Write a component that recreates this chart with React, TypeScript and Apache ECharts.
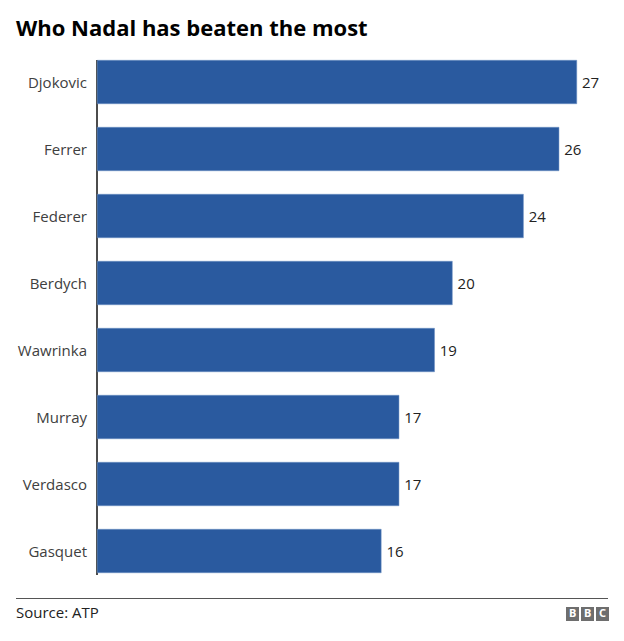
import React, { useEffect, useRef } from "react";
import * as echarts from "echarts";

const players = ["Djokovic", "Ferrer", "Federer", "Berdych", "Wawrinka", "Murray", "Verdasco", "Gasquet"];
const wins = [27, 26, 24, 20, 19, 17, 17, 16];
const titleText = "Who Nadal has beaten the most";
const sourceText = "Source: ATP";
const logoLetters = ["B", "B", "C"];

export default function App() {
  const ref = useRef<HTMLDivElement>(null);
  useEffect(() => {
    document.body.style.margin = "0";
    const chart = echarts.init(ref.current!, null, { renderer: "svg" });
    const font = "'Open Sans', 'Noto Sans', sans-serif";
    const logoEls: any[] = [];
    logoLetters.forEach((l, i) => {
      logoEls.push({
        type: "rect",
        left: 566 + i * 15,
        top: 607,
        shape: { width: 13, height: 14 },
        style: { fill: "#6e6e6e" },
      });
      logoEls.push({
        type: "text",
        left: 569 + i * 15,
        top: 607,
        style: { text: l, fill: "#fff", font: "bold 11px 'Noto Sans', sans-serif" },
      });
    });
    chart.setOption({
      animation: false,
      grid: { left: 97, top: 48.5, width: 480, height: 536, containLabel: false },
      xAxis: {
        type: "value",
        min: 0,
        max: 27,
        show: false,
      },
      yAxis: {
        type: "category",
        data: players,
        inverse: true,
        axisLine: { show: false },
        axisTick: { show: false },
        axisLabel: { margin: 10, fontSize: 15, color: "#404040", fontFamily: font },
      },
      series: [
        {
          type: "bar",
          data: wins,
          barWidth: 44,
          itemStyle: { color: "#2a5a9f", borderColor: "#6f93c4", borderWidth: 0.5 },
          label: {
            show: true,
            position: "right",
            distance: 5,
            fontSize: 15,
            color: "#222",
            fontFamily: font,
          },
        },
      ],
      graphic: [
        {
          type: "text",
          left: 16,
          top: 16,
          style: { text: titleText, fill: "#000", font: "bold 22px 'Open Sans', 'Noto Sans', sans-serif" },
        },
        {
          type: "line",
          shape: { x1: 97, y1: 60, x2: 97, y2: 575 },
          style: { stroke: "#111", lineWidth: 1.5 },
        },
        {
          type: "line",
          shape: { x1: 16, y1: 598.5, x2: 608, y2: 598.5 },
          style: { stroke: "#555", lineWidth: 1 },
        },
        {
          type: "text",
          left: 16,
          top: 604,
          style: { text: sourceText, fill: "#222", font: "15px 'Open Sans', 'Noto Sans', sans-serif" },
        },
        ...logoEls,
      ],
    });
    return () => chart.dispose();
  }, []);
  return <div ref={ref} style={{ width: 624, height: 641 }} />;
}
